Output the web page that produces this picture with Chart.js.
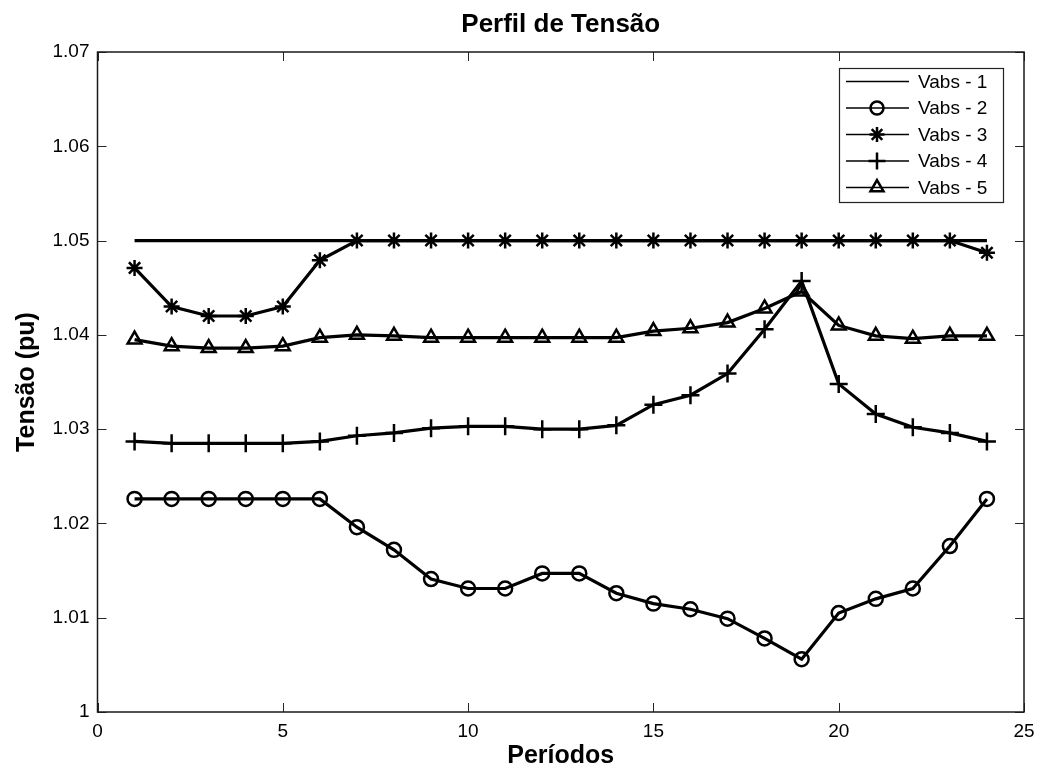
<!DOCTYPE html>
<html>
<head>
<meta charset="utf-8">
<script src="https://cdn.jsdelivr.net/npm/chart.js@4.4.1/dist/chart.umd.min.js"></script>
<style>
  html, body { margin: 0; padding: 0; background: #fff; }
  #wrap { width: 1037px; height: 771px; }
</style>
</head>
<body>
<div id="wrap"><canvas id="chart" width="1037" height="771"></canvas></div>
<script>
const periods = [1, 2, 3, 4, 5, 6, 7, 8, 9, 10, 11, 12, 13, 14, 15, 16, 17, 18, 19, 20, 21, 22, 23, 24];

const vabs1 = [1.05, 1.05, 1.05, 1.05, 1.05, 1.05, 1.05, 1.05, 1.05, 1.05, 1.05, 1.05,
               1.05, 1.05, 1.05, 1.05, 1.05, 1.05, 1.05, 1.05, 1.05, 1.05, 1.05, 1.05];
const vabs2 = [1.0226, 1.0226, 1.0226, 1.0226, 1.0226, 1.0226, 1.0196, 1.0172, 1.0141, 1.0131, 1.0131, 1.0147,
               1.0147, 1.0126, 1.0115, 1.0109, 1.0099, 1.0078, 1.0056, 1.0105, 1.0120, 1.0131, 1.0176, 1.0226];
const vabs3 = [1.0471, 1.0430, 1.0420, 1.0420, 1.0430, 1.0479, 1.0500, 1.0500, 1.0500, 1.0500, 1.0500, 1.0500,
               1.0500, 1.0500, 1.0500, 1.0500, 1.0500, 1.0500, 1.0500, 1.0500, 1.0500, 1.0500, 1.0500, 1.0487];
const vabs4 = [1.0287, 1.0285, 1.0285, 1.0285, 1.0285, 1.0287, 1.0293, 1.0296, 1.0301, 1.0303, 1.0303, 1.0300,
               1.0300, 1.0304, 1.0326, 1.0336, 1.0359, 1.0406, 1.0457, 1.0348, 1.0316, 1.0302, 1.0296, 1.0287];
const vabs5 = [1.0395, 1.0388, 1.0386, 1.0386, 1.0388, 1.0397, 1.0400, 1.0399, 1.0397, 1.0397, 1.0397, 1.0397,
               1.0397, 1.0397, 1.0404, 1.0407, 1.0413, 1.0428, 1.0446, 1.0410, 1.0399, 1.0396, 1.0399, 1.0399];

const seriesLabels = ['Vabs - 1', 'Vabs - 2', 'Vabs - 3', 'Vabs - 4', 'Vabs - 5'];
const xTickValues = [0, 5, 10, 15, 20, 25];
const yTickValues = [1.00, 1.01, 1.02, 1.03, 1.04, 1.05, 1.06, 1.07];

const FONT = "Arial, 'Liberation Sans', Helvetica, sans-serif";

function toPoints(values) {
    return values.map((v, i) => ({ x: periods[i], y: v }));
}

function makeSet(label, values, style, radius) {
    return {
        label: label,
        data: toPoints(values),
        borderColor: '#000',
        backgroundColor: 'rgba(0,0,0,0)',
        borderWidth: 3.2,
        pointStyle: style,
        pointRadius: radius,
        pointBorderWidth: 2.5,
        pointBorderColor: '#000',
        pointBackgroundColor: 'rgba(0,0,0,0)',
        tension: 0,
        fill: false
    };
}

// inward tick marks, box and legend, MATLAB style
const boxTicks = {
    id: 'boxTicks',
    afterDatasetsDraw(chart) {
        const { ctx, chartArea: a, scales } = chart;
        ctx.save();
        ctx.strokeStyle = '#262626';
        ctx.lineWidth = 1;
        ctx.beginPath();
        scales.x.ticks.forEach(t => {
            const px = Math.round(scales.x.getPixelForValue(t.value)) + 0.5;
            ctx.moveTo(px, a.bottom); ctx.lineTo(px, a.bottom - 9);
            ctx.moveTo(px, a.top); ctx.lineTo(px, a.top + 9);
        });
        scales.y.ticks.forEach(t => {
            const py = Math.round(scales.y.getPixelForValue(t.value)) + 0.5;
            ctx.moveTo(a.left, py); ctx.lineTo(a.left + 9, py);
            ctx.moveTo(a.right, py); ctx.lineTo(a.right - 9, py);
        });
        ctx.stroke();
        ctx.lineWidth = 1.5;
        ctx.strokeStyle = '#1a1a1a';
        ctx.strokeRect(a.left, a.top, a.right - a.left, a.bottom - a.top);
        ctx.restore();
    },
    afterDraw(chart) {
        const { ctx, chartArea: a } = chart;
        const bx = a.right - 185, by = a.top + 16, bw = 164, bh = 134;
        ctx.save();
        ctx.fillStyle = '#fff';
        ctx.fillRect(bx, by, bw, bh);
        ctx.strokeStyle = '#222';
        ctx.lineWidth = 1.2;
        ctx.strokeRect(bx + 0.5, by + 0.5, bw, bh);
        chart.data.datasets.forEach((ds, i) => {
            const cy = by + 13.5 + i * 26.5;
            ctx.strokeStyle = '#000';
            ctx.lineWidth = 1.5;
            ctx.beginPath();
            ctx.moveTo(bx + 7, cy);
            ctx.lineTo(bx + 70, cy);
            ctx.stroke();
            if (ds.pointRadius > 0) {
                ctx.lineWidth = 2.5;
                ctx.strokeStyle = '#000';
                ctx.fillStyle = 'rgba(0,0,0,0)';
                Chart.helpers.drawPoint(ctx, { pointStyle: ds.pointStyle, radius: ds.pointRadius - 0.5, borderWidth: 2.5 }, bx + 38, cy);
            }
            ctx.fillStyle = '#000';
            ctx.font = '19px ' + FONT;
            ctx.textBaseline = 'middle';
            ctx.textAlign = 'left';
            ctx.fillText(ds.label, bx + 79, cy + 1);
        });
        ctx.restore();
    }
};

new Chart(document.getElementById('chart').getContext('2d'), {
    type: 'line',
    data: {
        datasets: [
            makeSet(seriesLabels[0], vabs1, 'circle', 0),
            makeSet(seriesLabels[1], vabs2, 'circle', 7),
            makeSet(seriesLabels[2], vabs3, 'star', 8),
            makeSet(seriesLabels[3], vabs4, 'cross', 9),
            makeSet(seriesLabels[4], vabs5, 'triangle', 8)
        ]
    },
    options: {
        responsive: false,
        animation: false,
        layout: { padding: { left: 0, right: 13, top: 0, bottom: 0 } },
        plugins: {
            legend: { display: false },
            tooltip: { enabled: false },
            title: {
                display: true,
                fullSize: false,
                text: 'Perfil de Tensão',
                color: '#000',
                font: { family: FONT, size: 26, weight: 'bold' },
                padding: { top: 9, bottom: 11.8 }
            }
        },
        scales: {
            x: {
                type: 'linear',
                min: 0, max: 25,
                afterBuildTicks: s => { s.ticks = xTickValues.map(v => ({ value: v })); },
                afterFit: s => { s.height = 59; s.paddingLeft = 0; s.paddingRight = 0; },
                grid: { display: false, drawTicks: false },
                border: { display: false },
                ticks: { color: '#000', padding: 8, font: { family: FONT, size: 19 } },
                title: {
                    display: true, text: 'Períodos', color: '#000',
                    font: { family: FONT, size: 25, weight: 'bold' },
                    padding: { top: 0, bottom: 0 }
                }
            },
            y: {
                type: 'linear',
                min: 1.0, max: 1.07,
                afterBuildTicks: s => { s.ticks = yTickValues.map(v => ({ value: v })); },
                afterFit: s => { s.width = 97.5; s.paddingTop = 0; s.paddingBottom = 0; },
                grid: { display: false, drawTicks: false },
                border: { display: false },
                ticks: {
                    color: '#000', padding: 8, font: { family: FONT, size: 19 },
                    callback: v => String(parseFloat(v.toFixed(2)))
                },
                title: {
                    display: true, text: 'Tensão (pu)', color: '#000',
                    font: { family: FONT, size: 25, weight: 'bold' },
                    padding: { top: 12, bottom: 0 }
                }
            }
        }
    },
    plugins: [boxTicks]
});
</script>
</body>
</html>
